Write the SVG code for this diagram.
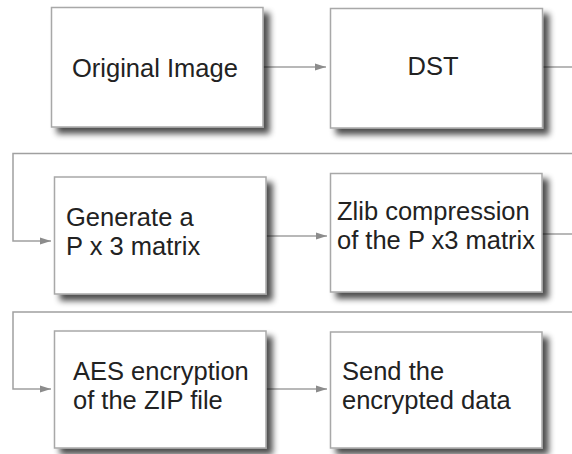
<svg xmlns="http://www.w3.org/2000/svg" width="572" height="454" viewBox="0 0 572 454">
<defs>
<filter id="sh" x="-10%" y="-10%" width="130%" height="130%">
<feGaussianBlur in="SourceAlpha" stdDeviation="3" result="b"/>
<feOffset in="b" dx="6" dy="6" result="o"/>
<feComponentTransfer in="o" result="s"><feFuncA type="linear" slope="0.7"/></feComponentTransfer>
<feMerge><feMergeNode in="s"/><feMergeNode in="SourceGraphic"/></feMerge>
</filter>
<marker id="ah" markerWidth="12" markerHeight="8" refX="11" refY="4" orient="auto" markerUnits="userSpaceOnUse">
<path d="M0,0.5 L11,4 L0,7.5 Z" fill="#8c8c8c"/>
</marker>
<style>
.box{fill:#fff;stroke:#a8a8a8;stroke-width:1.5;filter:url(#sh)}
.t{font-family:"Liberation Sans",Arial,sans-serif;font-size:25.5px;fill:#222}
.c{fill:none;stroke:#a0a0a0;stroke-width:1.5}
</style>
</defs>
<rect width="572" height="454" fill="#fff"/>
<g id="connectors">
<path class="c" d="M263,67 H326" marker-end="url(#ah)"/>
<path class="c" d="M543,67 H572"/>
<path class="c" d="M572,153.5 H13 V241 H51" marker-end="url(#ah)"/>
<path class="c" d="M266,236 H327" marker-end="url(#ah)"/>
<path class="c" d="M542,234 H572"/>
<path class="c" d="M572,312 H13 V389 H51" marker-end="url(#ah)"/>
<path class="c" d="M266,389 H327" marker-end="url(#ah)"/>
</g>
<g id="original">
<rect class="box" x="51.5" y="7.5" width="211.5" height="119.5"/>
<text class="t" x="72" y="77">Original Image</text>
</g>
<g id="dst">
<rect class="box" x="330.5" y="8.5" width="212" height="119.5"/>
<text class="t" x="433" y="75" text-anchor="middle">DST</text>
</g>
<g id="generate">
<rect class="box" x="54.5" y="177" width="211.5" height="117"/>
<text class="t" x="66" y="226">Generate a</text>
<text class="t" x="66" y="255">P x 3 matrix</text>
</g>
<g id="zlib">
<rect class="box" x="330.5" y="173.5" width="211.5" height="118.5"/>
<text class="t" x="337" y="220">Zlib compression</text>
<text class="t" x="337" y="249">of the P x3 matrix</text>
</g>
<g id="aes">
<rect class="box" x="54.5" y="331" width="211.5" height="117"/>
<text class="t" x="73" y="380">AES encryption</text>
<text class="t" x="73" y="409">of the ZIP file</text>
</g>
<g id="send">
<rect class="box" x="330.5" y="332" width="211.5" height="116"/>
<text class="t" x="342" y="380">Send the</text>
<text class="t" x="342" y="409">encrypted data</text>
</g>
</svg>
